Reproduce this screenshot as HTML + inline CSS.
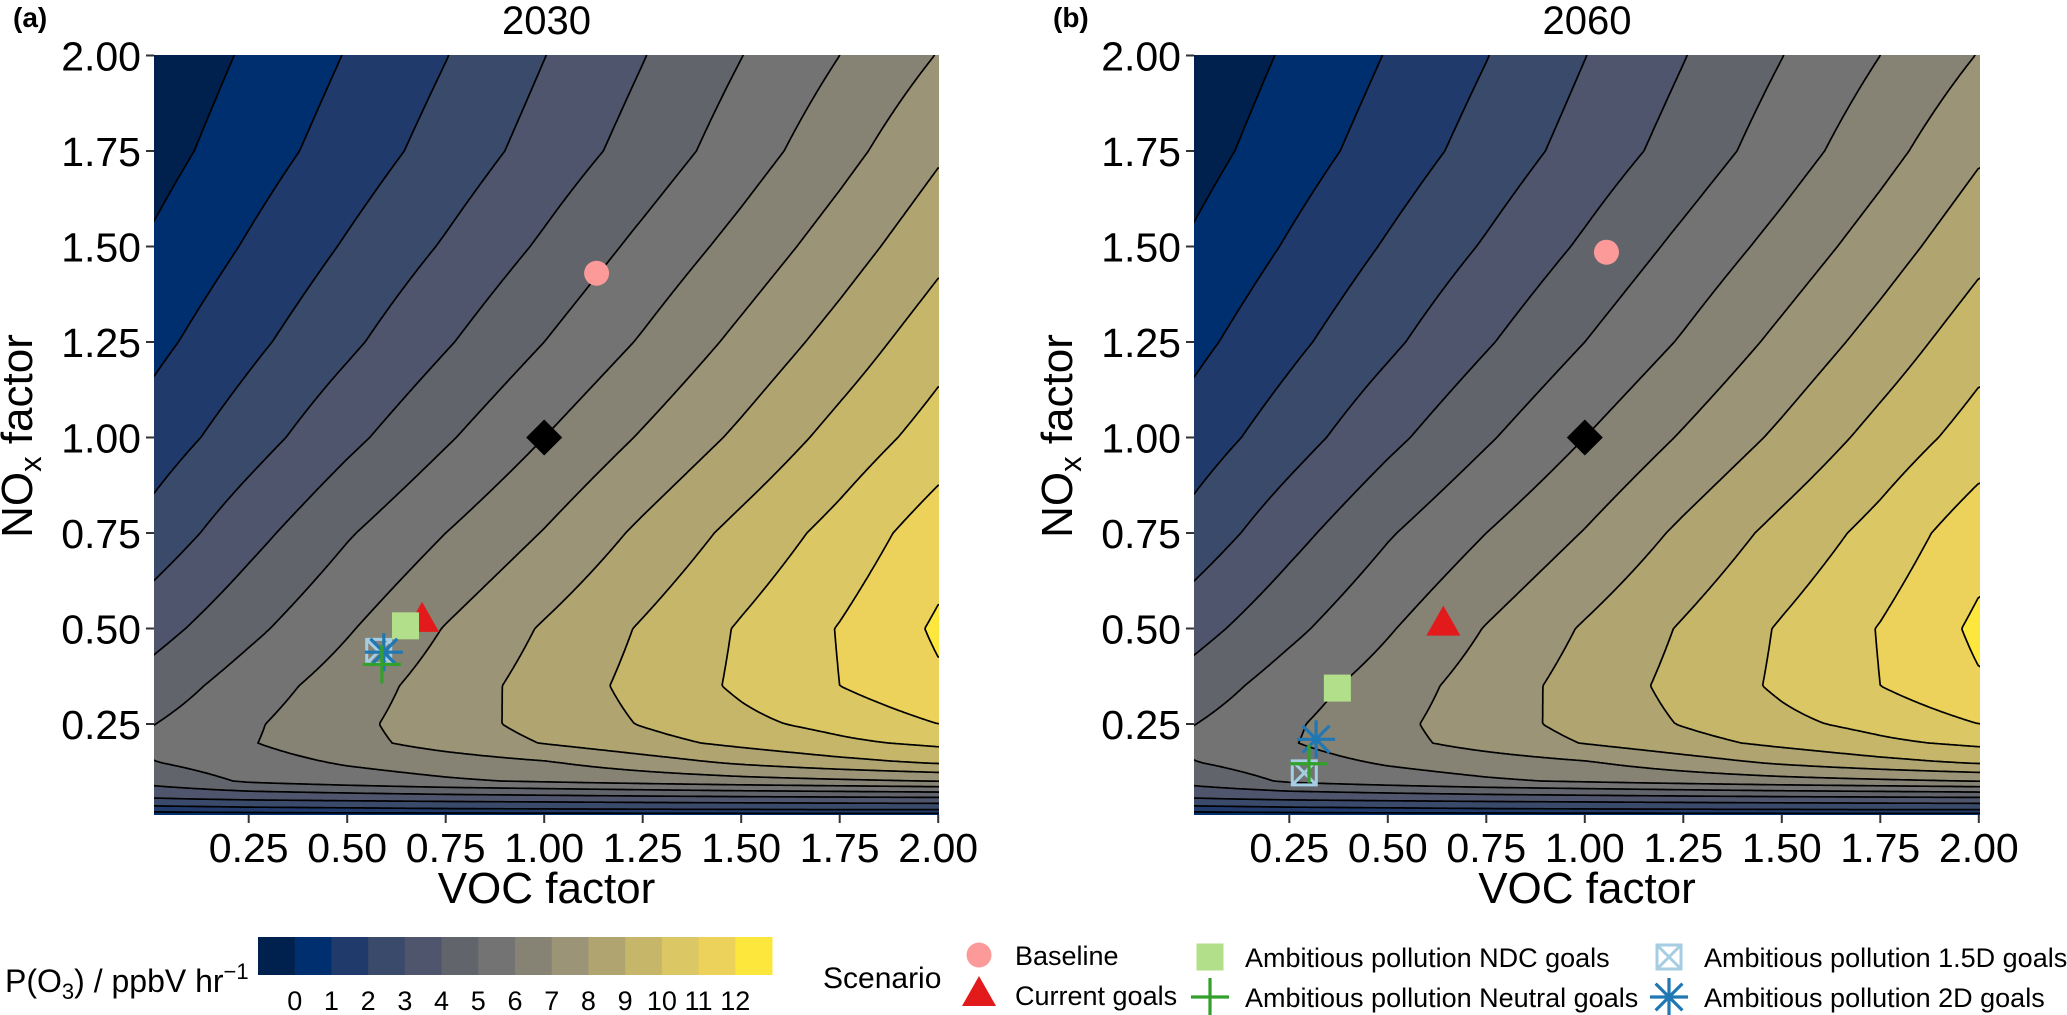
<!DOCTYPE html>
<html><head><meta charset="utf-8">
<style>
html,body{margin:0;padding:0;background:#fff;}
#wrap{position:relative;width:2067px;height:1015px;overflow:hidden;font-family:"Liberation Sans",Arial,sans-serif;}
canvas{position:absolute;}
svg{position:absolute;left:0;top:0;}
</style></head>
<body>
<div id="wrap">
<canvas id="cvA" width="785" height="760" style="left:154px;top:55px"></canvas>
<canvas id="cvB" width="786" height="760" style="left:1194px;top:55px"></canvas>
<svg id="svg" width="2067" height="1015" xmlns="http://www.w3.org/2000/svg"></svg>
</div>
<script>
// ---------- data ----------
const VOC = [0, 0.25, 0.5, 0.75, 1, 1.25, 1.5, 1.75, 2];
const NOX = [0.01, 0.025, 0.05, 0.1, 0.15, 0.2, 0.25, 0.35, 0.5, 0.75, 1, 1.25, 1.5, 1.75, 2];
// P(O3) values, rows follow NOX (ascending), columns follow VOC
const P2030 = [
 [0.2, 0.25, 0.3, 0.3, 0.3, 0.3, 0.3, 0.3, 0.3],
 [1.4, 1.6, 1.7, 1.8, 1.85, 1.9, 1.95, 2.0, 2.0],
 [2.8, 2.95, 3.05, 3.15, 3.22, 3.3, 3.36, 3.4, 3.45],
 [4.33, 5.12, 5.5, 5.85, 6.1, 6.35, 6.6, 6.8, 7.0],
 [4.95, 5.55, 6.12, 6.52, 6.92, 7.56, 8.18, 8.7, 9.15],
 [5.2, 5.93, 6.68, 7.38, 8.04, 8.65, 9.24, 9.8, 10.2],
 [4.95, 5.85, 6.73, 7.56, 8.33, 9.06, 9.76, 10.3, 11.0],
 [4.4, 5.5, 6.48, 7.46, 8.4, 9.3, 10.17, 11.0, 11.85],
 [3.58, 4.75, 5.9, 7.05, 8.1, 9.1, 10.1, 11.05, 12.15],
 [2.33, 3.65, 4.9, 6.0, 7.05, 8.2, 9.3, 10.35, 11.55],
 [1.42, 2.55, 3.74, 4.88, 6.0, 7.1, 8.2, 9.35, 10.45],
 [0.7, 1.75, 2.8, 3.9, 5.0, 6.1, 7.25, 8.4, 9.6],
 [0.1, 1.1, 2.1, 3.1, 4.15, 5.25, 6.35, 7.5, 8.7],
 [-0.42, 0.52, 1.45, 2.4, 3.4, 4.4, 5.5, 6.65, 7.85],
 [-0.78, 0.135, 1.05, 1.97, 2.98, 3.96, 4.98, 6.0, 7.04]
];
const P2060 = [
 [0.2, 0.25, 0.3, 0.3, 0.3, 0.3, 0.3, 0.3, 0.3],
 [1.4, 1.6, 1.7, 1.8, 1.85, 1.9, 1.95, 2.0, 2.0],
 [2.8, 2.95, 3.05, 3.15, 3.22, 3.3, 3.36, 3.4, 3.45],
 [4.33, 5.12, 5.5, 5.85, 6.1, 6.35, 6.6, 6.8, 7.0],
 [4.95, 5.55, 6.12, 6.52, 6.92, 7.56, 8.18, 8.7, 9.15],
 [5.2, 5.93, 6.68, 7.38, 8.04, 8.65, 9.24, 9.8, 10.2],
 [4.95, 5.85, 6.73, 7.56, 8.33, 9.06, 9.76, 10.3, 11.0],
 [4.4, 5.5, 6.48, 7.46, 8.4, 9.3, 10.17, 11.0, 11.9],
 [3.58, 4.75, 5.9, 7.05, 8.1, 9.1, 10.1, 11.05, 12.2],
 [2.33, 3.65, 4.9, 6.0, 7.05, 8.2, 9.3, 10.35, 11.6],
 [1.42, 2.55, 3.74, 4.88, 6.0, 7.1, 8.2, 9.35, 10.45],
 [0.7, 1.75, 2.8, 3.9, 5.0, 6.1, 7.25, 8.4, 9.6],
 [0.1, 1.1, 2.1, 3.1, 4.15, 5.25, 6.35, 7.5, 8.7],
 [-0.42, 0.52, 1.45, 2.4, 3.4, 4.4, 5.5, 6.65, 7.85],
 [-0.78, 0.135, 1.05, 1.97, 2.98, 3.96, 4.98, 6.0, 7.04]
];
const LEVELS = [0, 1, 2, 3, 4, 5, 6, 7, 8, 9, 10, 11, 12];
const LEVEL_LABELS = ["0","1","2","3","4","5","6","7","8","9","10","11","12"];
const COLORS = ["#00204d","#002f6f","#1f3a6b","#3a4a6b","#4f556c","#62646c","#737373","#868274","#9c9476","#b0a470","#c6b66a","#dcc765","#ecd25a","#fde73d"];
const X_TICKS = [0.25, 0.5, 0.75, 1, 1.25, 1.5, 1.75, 2];
const X_TICK_LABELS = ["0.25","0.50","0.75","1.00","1.25","1.50","1.75","2.00"];
const Y_TICKS = [0.25, 0.5, 0.75, 1, 1.25, 1.5, 1.75, 2];
const Y_TICK_LABELS = ["0.25","0.50","0.75","1.00","1.25","1.50","1.75","2.00"];
const SCENARIOS = ["Baseline","Current goals","Ambitious pollution NDC goals","Ambitious pollution Neutral goals","Ambitious pollution 1.5D goals","Ambitious pollution 2D goals"];
const VOC_2030 = [1.133, 0.69, 0.648, 0.588, 0.58, 0.593];
const NOX_2030 = [1.43, 0.52, 0.507, 0.406, 0.44, 0.438];
const VOC_2060 = [1.055, 0.641, 0.372, 0.30, 0.288, 0.318];
const NOX_2060 = [1.485, 0.51, 0.344, 0.146, 0.122, 0.21];
const REF_VOC = 1, REF_NOX = 1;

// ---------- helpers ----------
const NS = "http://www.w3.org/2000/svg";
const svg = document.getElementById("svg");
function mk(tag, attrs, parent){
  const e = document.createElementNS(NS, tag);
  for (const k in attrs) e.setAttribute(k, attrs[k]);
  (parent || svg).appendChild(e);
  return e;
}
function field(g, v, n){
  v = Math.max(VOC[0], Math.min(VOC[VOC.length-1], v));
  n = Math.max(NOX[0], Math.min(NOX[NOX.length-1], n));
  let i = 0; while (i < VOC.length-2 && v > VOC[i+1]) i++;
  let j = 0; while (j < NOX.length-2 && n > NOX[j+1]) j++;
  const tv = (v-VOC[i])/(VOC[i+1]-VOC[i]);
  const tn = (n-NOX[j])/(NOX[j+1]-NOX[j]);
  return g[j][i]*(1-tv)*(1-tn) + g[j][i+1]*tv*(1-tn) + g[j+1][i]*(1-tv)*tn + g[j+1][i+1]*tv*tn;
}
function hex(c){ return [parseInt(c.substr(1,2),16),parseInt(c.substr(3,2),16),parseInt(c.substr(5,2),16)]; }
const RGB = COLORS.map(hex);

const PANELS = [
  {id:"2030", tag:"(a)", grid:P2030, cv:"cvA", x0:154, x1:939, ox:150.2, vocs:VOC_2030, noxs:NOX_2030},
  {id:"2060", tag:"(b)", grid:P2060, cv:"cvB", x0:1194, x1:1980, ox:1190.8, vocs:VOC_2060, noxs:NOX_2060}
];
const Y0 = 55, Y1 = 815, SX = 394, SY = 382, OY = 819.5;

PANELS.forEach((P, pi) => {
  const sx = v => P.ox + v*SX;
  const sy = n => OY - n*SY;
  const ivx = x => (x - P.ox)/SX;
  const ivy = y => (OY - y)/SY;
  // fill
  const cv = document.getElementById(P.cv);
  const W = cv.width, H = cv.height;
  const ctx = cv.getContext("2d");
  const img = ctx.createImageData(W, H);
  for (let py = 0; py < H; py++){
    const n = ivy(Y0 + py + 0.5);
    for (let px = 0; px < W; px++){
      const val = field(P.grid, ivx(P.x0 + px + 0.5), n);
      let b = Math.floor(val) + 1; b = Math.max(0, Math.min(COLORS.length-1, b));
      const c = RGB[b], k = (py*W + px)*4;
      img.data[k]=c[0]; img.data[k+1]=c[1]; img.data[k+2]=c[2]; img.data[k+3]=255;
    }
  }
  ctx.putImageData(img, 0, 0);

  const g = mk("g", {});
  
  
  const cid = "clip" + pi;
  const cp = mk("clipPath", {id: cid}, g);
  mk("rect", {x:P.x0, y:Y0, width:P.x1-P.x0, height:Y1-Y0}, cp);

  // contours via marching squares
  const s = 2;
  const xs = [], ys = [];
  for (let x = P.x0; x < P.x1; x += s) xs.push(x); xs.push(P.x1);
  for (let y = Y0; y < Y1; y += s) ys.push(y); ys.push(Y1);
  const vals = ys.map(y => xs.map(x => field(P.grid, ivx(x), ivy(y))));
  const cg = mk("g", {"clip-path": "url(#"+cid+")"}, g);
  
  
  LEVELS.forEach(L => {
    let d = "";
    for (let j = 0; j < ys.length-1; j++){
      for (let i = 0; i < xs.length-1; i++){
        const a = vals[j][i], b = vals[j][i+1], c = vals[j+1][i+1], e = vals[j+1][i];
        const pts = [];
        const xa = xs[i], xb = xs[i+1], ya = ys[j], yb = ys[j+1];
        if ((a-L)*(b-L) < 0) pts.push([xa + (L-a)/(b-a)*(xb-xa), ya]);
        if ((b-L)*(c-L) < 0) pts.push([xb, ya + (L-b)/(c-b)*(yb-ya)]);
        if ((e-L)*(c-L) < 0) pts.push([xa + (L-e)/(c-e)*(xb-xa), yb]);
        if ((a-L)*(e-L) < 0) pts.push([xa, ya + (L-a)/(e-a)*(yb-ya)]);
        for (let k = 0; k+1 < pts.length; k += 2)
          d += "M" + pts[k][0].toFixed(1) + " " + pts[k][1].toFixed(1) + "L" + pts[k+1][0].toFixed(1) + " " + pts[k+1][1].toFixed(1);
      }
    }
    const p = mk("path", {d: d, fill: "none", stroke: "#000", "stroke-width": 1.7, "stroke-linecap":"round"}, cg);
    
    
  });

  // axes ticks
  X_TICKS.forEach((t, k) => {
    const x = sx(t);
    const tl = mk("line", {x1:x, x2:x, y1:Y1, y2:Y1+8, stroke:"#333", "stroke-width":2}, g);
    
    
    const tx = mk("text", {x:x, y:862, "text-anchor":"middle", "font-size":41, fill:"#000"}, g);
    tx.textContent = X_TICK_LABELS[k];
    
    
  });
  Y_TICKS.forEach((t, k) => {
    const y = sy(t);
    const tl = mk("line", {x1:P.x0-8, x2:P.x0, y1:y, y2:y, stroke:"#333", "stroke-width":2}, g);
    
    
    const tx = mk("text", {x:P.x0-13, y:y+15, "text-anchor":"end", "font-size":41, fill:"#000"}, g);
    tx.textContent = Y_TICK_LABELS[k];
    
    
  });
  const cx = (P.x0 + P.x1)/2;
  const xt = mk("text", {x:cx, y:903, "text-anchor":"middle", "font-size":44}, g);
  xt.textContent = "VOC factor";
  
  
  const ytx = P.x0 - 122, yty = 436;
  const yt = mk("text", {x:ytx, y:yty, "text-anchor":"middle", "font-size":44, transform:"rotate(-90 "+ytx+" "+yty+")"}, g);
  
  
  const t1 = mk("tspan", {}, yt); t1.textContent = "NO";
  const t2 = mk("tspan", {"font-size":31, dy:9}, yt); t2.textContent = "x";
  const t3 = mk("tspan", {dy:-9}, yt); t3.textContent = " factor";
  const tt = mk("text", {x:cx, y:34, "text-anchor":"middle", "font-size":40}, g);
  tt.textContent = P.id;
  
  
  const tg = mk("text", {x:P.x0-141, y:27, "font-size":28, "font-weight":"bold"}, g);
  tg.textContent = P.tag;
  
  

  // markers
  const mg = mk("g", {}, g);
  
  
  const dx = sx(REF_VOC), dy = sy(REF_NOX);
  const dm = mk("polygon", {points:(dx-18)+","+dy+" "+dx+","+(dy-18)+" "+(dx+18)+","+dy+" "+dx+","+(dy+18), fill:"#000"}, mg);
  
  
  const order = [0, 1, 2, 4, 5, 3];
  order.forEach(k => {
    drawMarker(mg, k, sx(P.vocs[k]), sy(P.noxs[k]));
  });
});

function drawMarker(parent, k, x, y){
  let el;
  if (k === 0){
    el = mk("circle", {cx:x, cy:y, r:12.5, fill:"#fb9a99"}, parent);
  } else if (k === 1){
    el = mk("polygon", {points:x+","+(y-19)+" "+(x+17)+","+(y+11)+" "+(x-17)+","+(y+11), fill:"#e31a1c"}, parent);
  } else if (k === 2){
    el = mk("rect", {x:x-13.5, y:y-13.5, width:27, height:27, fill:"#b2df8a"}, parent);
  } else if (k === 3){
    el = mk("path", {d:"M"+(x-19)+" "+y+"H"+(x+19)+"M"+x+" "+(y-19)+"V"+(y+19), stroke:"#33a02c", "stroke-width":3.2, fill:"none"}, parent);
  } else if (k === 4){
    el = mk("path", {d:"M"+(x-12)+" "+(y-12)+"h24v24h-24zM"+(x-12)+" "+(y-12)+"L"+(x+12)+" "+(y+12)+"M"+(x+12)+" "+(y-12)+"L"+(x-12)+" "+(y+12), stroke:"#a6cee3", "stroke-width":3, fill:"none"}, parent);
  } else {
    let d = "";
    for (let a = 0; a < 4; a++){
      const ang = a*Math.PI/4, r = 19;
      d += "M"+(x-r*Math.cos(ang)).toFixed(1)+" "+(y-r*Math.sin(ang)).toFixed(1)+"L"+(x+r*Math.cos(ang)).toFixed(1)+" "+(y+r*Math.sin(ang)).toFixed(1);
    }
    el = mk("path", {d:d, stroke:"#1f78b4", "stroke-width":3.2, fill:"none"}, parent);
  }
  
  
  return el;
}

// ---------- colour legend ----------
const lg = mk("g", {});


const lt = mk("text", {x:5, y:992, "font-size":32}, lg);


const a1 = mk("tspan", {}, lt); a1.textContent = "P(O";
const a2 = mk("tspan", {"font-size":22, dy:7}, lt); a2.textContent = "3";
const a3 = mk("tspan", {dy:-7}, lt); a3.textContent = ") / ppbV hr";
const a4 = mk("tspan", {"font-size":22, dy:-13}, lt); a4.textContent = "\u22121";
const CB_X = 258, CB_W = 514, CB_Y = 937, CB_H = 38;
const bw = CB_W / COLORS.length;
COLORS.forEach((c, i) => {
  const r = mk("rect", {x:CB_X + i*bw, y:CB_Y, width:bw+0.5, height:CB_H, fill:c}, lg);
  
  
});
LEVELS.forEach((L, i) => {
  const t = mk("text", {x:CB_X + (i+1)*bw, y:1010, "text-anchor":"middle", "font-size":27}, lg);
  t.textContent = LEVEL_LABELS[i];
  
  
});

// ---------- scenario legend ----------
const sg = mk("g", {});


const st = mk("text", {x:823, y:988, "font-size":30}, sg);
st.textContent = "Scenario";


const LEG_POS = [[979,955],[979,995],[1210,957],[1210,997],[1669,957],[1669,997]];
const LEG_TX = [1015, 1015, 1245, 1245, 1704, 1704];
SCENARIOS.forEach((name, k) => {
  const p = LEG_POS[k];
  drawMarker(sg, k, p[0], p[1]);
  const t = mk("text", {x:LEG_TX[k], y:p[1]+10, "font-size":27}, sg);
  t.textContent = name;
  
  
});
</script>
</body></html>
